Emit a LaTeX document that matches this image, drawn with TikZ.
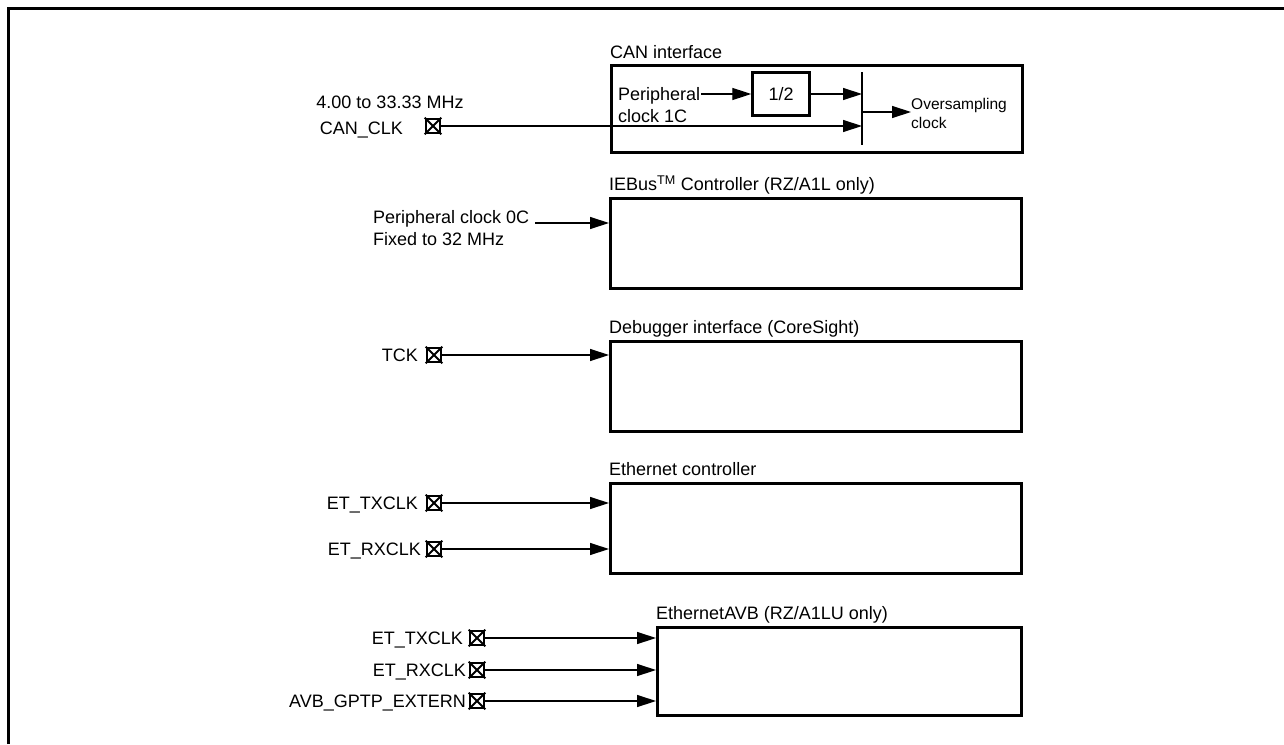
\documentclass[tikz,border=0pt]{standalone}
\usepackage{fontspec}
\setmainfont{Liberation Sans}
\usetikzlibrary{arrows.meta}
\begin{document}
\begin{tikzpicture}[x=1pt,y=-1pt,
  every node/.style={font=\fontsize{18}{21}\selectfont, inner sep=0pt},
  blk/.style={draw, line width=2.7pt, anchor=north west, minimum width=411pt, minimum height=90pt},
  ttl/.style={anchor=base west},
  sig/.style={anchor=base east},
  conn/.style={line width=1.3pt, -{Triangle[length=19pt,width=12pt]}},
  pinbox/.style={draw, line width=2.6pt, minimum size=14pt},
  xmark/.style={line width=2pt},
]
\useasboundingbox (0,0) rectangle (1284,744);
\draw[line width=3pt] (8,744) -- (8,8) -- (1284,8);

% ---------- CAN interface ----------
\node[blk, minimum height=87pt] (can) at (610,64) {};
\node[ttl] (cant) at (610,58) {CAN interface};
\node[ttl] (per) at (618,100.5) {Peripheral};
\node[ttl] (per2) at (618,122) {clock 1C};
\node[draw, line width=2.4pt, minimum width=57pt, minimum height=43pt] (half) at (781,94) {1/2};
\coordinate (vt) at (862,72);
\coordinate (vb) at (862,145);
\coordinate (vo) at (862,112);
\draw[line width=1.3pt] (vt) -- (vb);
\draw[conn] ([xshift=1pt]per.east |- half.west) -- (half.west);
\draw[conn] (half.east) -- (half.east -| vt);
\node[ttl, font=\fontsize{15.5}{18}\selectfont] (ovs) at (911,109.5) {Oversampling};
\node[ttl, font=\fontsize{15.5}{18}\selectfont] (ovc) at (911,128) {clock};
\draw[conn] (vo) -- (vo -| ovs.west);

\node[pinbox] (cclk) at (433,126) {};
\draw[xmark] (cclk.north west) -- (cclk.south east) (cclk.north east) -- (cclk.south west);
\node[sig] (cclkt) at (403,134) {CAN\_CLK};
\node[anchor=base] (cfreq) at (390,108) {4.00 to 33.33 MHz};
\draw[conn] (cclk.east) -- (cclk.east -| vt);

% ---------- IEBus ----------
\node[blk] (ieb) at (609,197) {};
\node[ttl] (iebt) at (609,190.5) {IEBus\textsuperscript{TM} Controller (RZ/A1L only)};
\node[ttl] (p0c) at (373,223) {Peripheral clock 0C};
\node[ttl] (f32) at (373,245) {Fixed to 32 MHz};
\draw[conn] ([xshift=6pt]p0c.base east) -- (p0c.base east -| ieb.west);

% ---------- Debugger ----------
\node[blk] (dbg) at (609,340) {};
\node[ttl] (dbgt) at (609,333.5) {Debugger interface (CoreSight)};
\node[pinbox] (tck) at (434,355) {};
\draw[xmark] (tck.north west) -- (tck.south east) (tck.north east) -- (tck.south west);
\node[sig] (tckt) at (418,361.5) {TCK};
\draw[conn] (tck.east) -- (tck.east -| dbg.west);

% ---------- Ethernet controller ----------
\node[blk] (eth) at (609,482) {};
\node[ttl] (etht) at (609,475.5) {Ethernet controller};
\node[pinbox] (etx) at (434,503) {};
\draw[xmark] (etx.north west) -- (etx.south east) (etx.north east) -- (etx.south west);
\node[sig] (etxt) at (418,509.5) {ET\_TXCLK};
\draw[conn] (etx.east) -- (etx.east -| eth.west);
\node[pinbox] (erx) at (434,549) {};
\draw[xmark] (erx.north west) -- (erx.south east) (erx.north east) -- (erx.south west);
\node[sig] (erxt) at (421,555.5) {ET\_RXCLK};
\draw[conn] (erx.east) -- (erx.east -| eth.west);

% ---------- EthernetAVB ----------
\node[blk, minimum width=364pt, minimum height=88pt] (avb) at (656,626) {};
\node[ttl] (avbt) at (656,619.5) {EthernetAVB (RZ/A1LU only)};
\node[pinbox] (atx) at (477,638) {};
\draw[xmark] (atx.north west) -- (atx.south east) (atx.north east) -- (atx.south west);
\node[sig] (atxt) at (463,644.5) {ET\_TXCLK};
\draw[conn] (atx.east) -- (atx.east -| avb.west);
\node[pinbox] (arx) at (477,670) {};
\draw[xmark] (arx.north west) -- (arx.south east) (arx.north east) -- (arx.south west);
\node[sig] (arxt) at (466,676.5) {ET\_RXCLK};
\draw[conn] (arx.east) -- (arx.east -| avb.west);
\node[pinbox] (agp) at (477,701) {};
\draw[xmark] (agp.north west) -- (agp.south east) (agp.north east) -- (agp.south west);
\node[sig] (agpt) at (466,707.5) {AVB\_GPTP\_EXTERN};
\draw[conn] (agp.east) -- (agp.east -| avb.west);
\end{tikzpicture}
\end{document}
